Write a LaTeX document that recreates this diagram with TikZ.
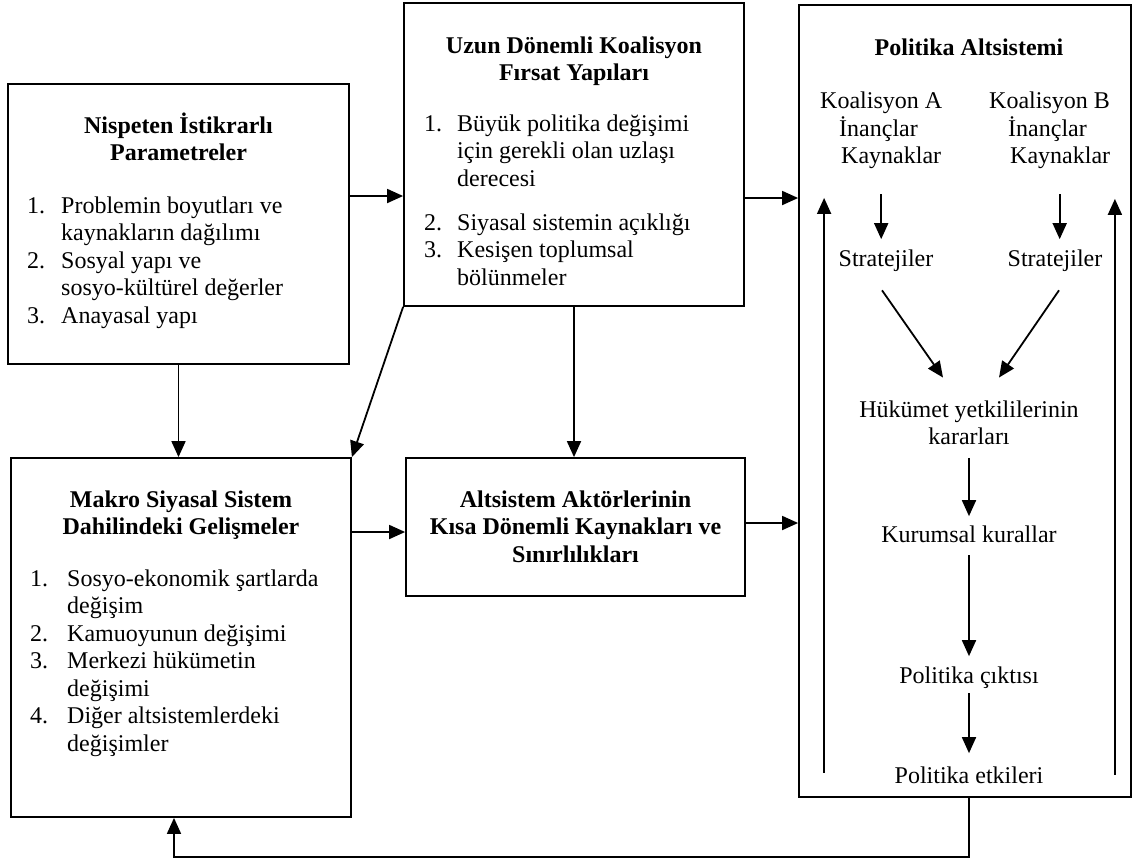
\documentclass[tikz,border=0pt]{standalone}
\usepackage{fontspec}
\setmainfont{Liberation Serif}
\usetikzlibrary{arrows.meta}
\tikzset{
  kutu/.style={draw, line width=1.8pt, inner sep=0pt},
  yazi/.style={inner sep=0pt, font=\fontsize{24}{27.5}\selectfont},
  baslik/.style={inner sep=0pt, font=\fontsize{24}{27.5}\selectfont\bfseries},
  ok/.style={line width=1.8pt, -{Triangle[length=16pt,width=14pt]}},
}
\begin{document}
\begin{tikzpicture}[x=1pt,y=-1pt]
\useasboundingbox (0,0) rectangle (1134,863);
%
% kutular
\node[kutu, minimum width=341pt, minimum height=280pt] (nip) at (178.5,224) {};
\node[kutu, minimum width=340pt, minimum height=303pt] (uzun) at (574,154.5) {};
\node[kutu, minimum width=332pt, minimum height=792pt] (pol) at (965,401) {};
\node[kutu, minimum width=340pt, minimum height=359pt] (mak) at (181,637.5) {};
\node[kutu, minimum width=339pt, minimum height=138pt] (alt) at (575.5,527) {};
%
% Nispeten istikrarli parametreler
\node[baslik, anchor=base] (nipB) at (178.5,133)
  {\begin{tabular}[t]{@{}c@{}}Nispeten İstikrarlı\\Parametreler\end{tabular}};
\node[yazi, anchor=base west] (nipL) at (27,213)
  {\begin{tabular}[t]{@{}p{34pt}@{}l@{}}
   1. & Problemin boyutları ve\\
      & kaynakların dağılımı\\
   2. & Sosyal yapı ve\\
      & sosyo-kültürel değerler\\
   3. & Anayasal yapı
   \end{tabular}};
%
% Uzun donemli koalisyon firsat yapilari
\node[baslik, anchor=base] (uzunB) at (574,53)
  {\begin{tabular}[t]{@{}c@{}}Uzun Dönemli Koalisyon\\Fırsat Yapıları\end{tabular}};
\node[yazi, anchor=base west] (uzunL) at (424,131)
  {\begin{tabular}[t]{@{}p{33pt}@{}l@{}}
   1. & Büyük politika değişimi\\
      & için gerekli olan uzlaşı\\
      & derecesi\\[16.5pt]
   2. & Siyasal sistemin açıklığı\\
   3. & Kesişen toplumsal\\
      & bölünmeler
   \end{tabular}};
%
% Makro siyasal sistem
\node[baslik, anchor=base] (makB) at (181,507)
  {\begin{tabular}[t]{@{}c@{}}Makro Siyasal Sistem\\Dahilindeki Gelişmeler\end{tabular}};
\node[yazi, anchor=base west] (makL) at (30,586)
  {\begin{tabular}[t]{@{}p{37pt}@{}l@{}}
   1. & Sosyo-ekonomik şartlarda\\
      & değişim\\
   2. & Kamuoyunun değişimi\\
   3. & Merkezi hükümetin\\
      & değişimi\\
   4. & Diğer altsistemlerdeki\\
      & değişimler
   \end{tabular}};
%
% Altsistem aktorleri
\node[baslik, anchor=base] (altB) at (575.5,507)
  {\begin{tabular}[t]{@{}c@{}}Altsistem Aktörlerinin\\Kısa Dönemli Kaynakları ve\\Sınırlılıkları\end{tabular}};
%
% Politika altsistemi
\node[baslik, anchor=base] (polB) at (969,55) {Politika Altsistemi};
\node[yazi, anchor=base west] (koalA) at (820,108)
  {\begin{tabular}[t]{@{}l@{}}Koalisyon A\\\hspace*{19pt}İnançlar\\\hspace*{21pt}Kaynaklar\end{tabular}};
\node[yazi, anchor=base west] (koalB) at (989,108)
  {\begin{tabular}[t]{@{}l@{}}Koalisyon B\\\hspace*{19pt}İnançlar\\\hspace*{21pt}Kaynaklar\end{tabular}};
\node[yazi, anchor=base] (stratA) at (886,266) {Stratejiler};
\node[yazi, anchor=base] (stratB) at (1055,266) {Stratejiler};
\node[yazi, anchor=base] (hukum) at (969,417)
  {\begin{tabular}[t]{@{}c@{}}Hükümet yetkililerinin\\kararları\end{tabular}};
\node[yazi, anchor=base] (kur) at (969,542) {Kurumsal kurallar};
\node[yazi, anchor=base] (cikti) at (969,683) {Politika çıktısı};
\node[yazi, anchor=base] (etki) at (969,783) {Politika etkileri};
%
% kutular arasi oklar
\draw[ok] (nip.east |- 0,196) -- (uzun.west |- 0,196);
\draw[ok] (uzun.east |- 0,198) -- (pol.west |- 0,198);
\draw[ok] (mak.east |- 0,532) -- (alt.west |- 0,532);
\draw[ok] (alt.east |- 0,523) -- (pol.west |- 0,523);
\draw[ok] (nip.south) -- (nip.south |- mak.north);
\draw[ok] (uzun.south west) -- (mak.north east);
\draw[ok] (uzun.south) -- (uzun.south |- alt.north);
\draw[ok] (pol.south -| etki) -- (etki |- 0,857) -| ([xshift=-7pt]mak.south);
%
% altsistem icindeki oklar
\draw[ok, shorten <=22pt, shorten >=10pt] (koalA.south) -- (koalA.south |- stratA.north);
\coordinate (kb) at ([xshift=10pt]koalB.south);
\draw[ok, shorten <=22pt, shorten >=10pt] (kb) -- (kb |- stratB.north);
\draw[ok] ([xshift=-4pt,yshift=-19pt]stratA.south) -- ([xshift=-26pt,yshift=20pt]hukum.north);
\draw[ok] ([xshift=4pt,yshift=-19pt]stratB.south) -- ([xshift=30pt,yshift=20pt]hukum.north);
\draw[ok, shorten <=5pt, shorten >=9pt] (hukum.south) -- (hukum.south |- kur.north);
\draw[ok, shorten <=13pt, shorten >=10pt] (kur.south) -- (kur.south |- cikti.north);
\draw[ok, shorten <=5pt, shorten >=13pt] (cikti.south) -- (cikti.south |- etki.north);
%
% geri besleme oklari
\draw[ok] (pol.south west) ++(26,-25) -- ++(0,-575);
\draw[ok] (pol.south east) ++(-17,-23) -- ++(0,-576);
%
\end{tikzpicture}
\end{document}
